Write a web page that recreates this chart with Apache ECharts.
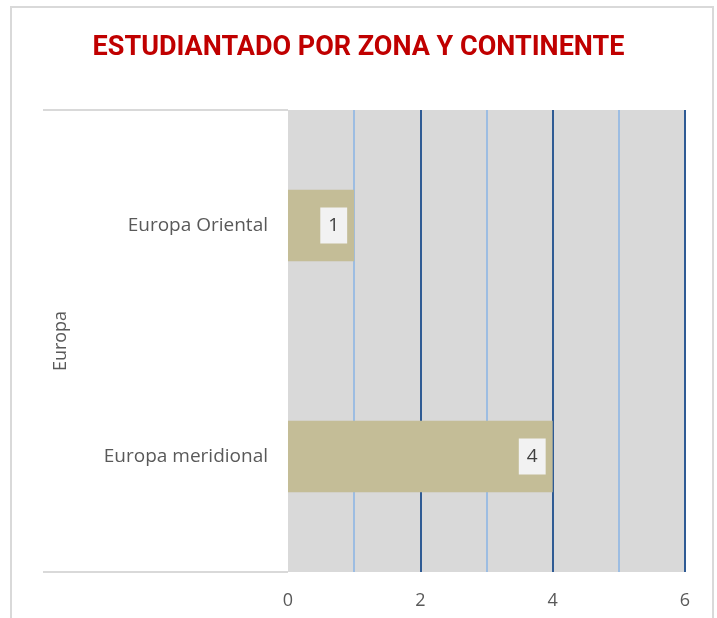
<!DOCTYPE html>
<html>
<head>
<meta charset="utf-8">
<script src="https://cdn.jsdelivr.net/npm/echarts@6/dist/echarts.min.js"></script>
<style>
  html, body { margin: 0; padding: 0; background: #fff; }
  #chart { width: 717px; height: 618px; }
</style>
</head>
<body>
<div id="chart"></div>
<script>
// datos
const categories = ['Europa meridional', 'Europa Oriental']
const values = [4, 1]
const groupName = 'Europa'
const titleText = 'ESTUDIANTADO POR ZONA Y CONTINENTE'

const chart = echarts.init(document.getElementById('chart'))
chart.setOption({
  animation: false,
  title: {
    text: titleText,
    left: 'center',
    top: 30,
    textStyle: { color: '#c00000', fontSize: 27, fontWeight: 'bold', fontFamily: 'Roboto' }
  },
  grid: {
    left: 288, right: 32, top: 110, bottom: 46,
    show: true, backgroundColor: '#d9d9d9', borderWidth: 0
  },
  xAxis: {
    type: 'value',
    min: 0,
    max: 6,
    interval: 1,
    axisLine: { show: false },
    axisTick: { show: false },
    axisLabel: {
      interval: 1,
      margin: 20,
      color: '#595959',
      fontSize: 18,
      fontFamily: 'Open Sans',
      formatter: v => (v % 2 === 0 ? String(v) : '')
    },
    splitLine: {
      showMinLine: false,
      lineStyle: { color: ['#9dbde2', '#2f5b94'], width: 2 }
    }
  },
  yAxis: {
    type: 'category',
    data: categories,
    name: groupName,
    nameLocation: 'middle',
    nameRotate: 90,
    nameGap: 218,
    nameTextStyle: { color: '#595959', fontSize: 18, fontFamily: 'Open Sans' },
    axisLine: { show: false },
    axisTick: { show: false },
    axisLabel: { margin: 20, color: '#595959', fontSize: 19, fontFamily: 'Open Sans' },
    splitLine: { show: false }
  },
  series: [
    {
      type: 'bar',
      data: values,
      barWidth: '31%',
      itemStyle: { color: '#c4bd97' },
      label: {
        show: true,
        position: 'insideRight',
        distance: 7,
        color: '#404040',
        fontSize: 19,
        fontFamily: 'Open Sans',
        backgroundColor: '#f2f2f2',
        padding: [9, 8, 8, 8]
      }
    }
  ],
  graphic: [
    {
      type: 'rect',
      shape: { x: 11, y: 7, width: 702, height: 640 },
      style: { fill: 'none', stroke: '#d9d9d9', lineWidth: 2 },
      silent: true
    },
    {
      type: 'line',
      shape: { x1: 43, y1: 110, x2: 288, y2: 110 },
      style: { stroke: '#d9d9d9', lineWidth: 2 },
      silent: true
    },
    {
      type: 'line',
      shape: { x1: 43, y1: 572, x2: 288, y2: 572 },
      style: { stroke: '#d9d9d9', lineWidth: 2 },
      silent: true
    }
  ]
})
</script>
</body>
</html>
